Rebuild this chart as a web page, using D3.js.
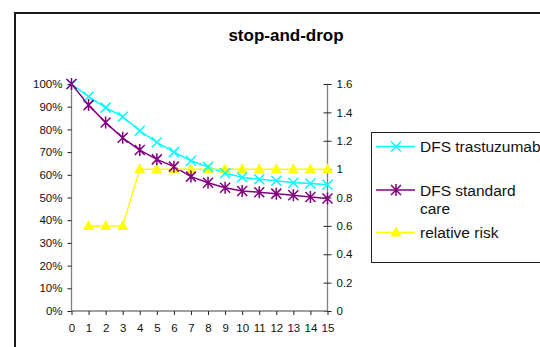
<!DOCTYPE html>
<html><head><meta charset="utf-8">
<script src="https://cdn.jsdelivr.net/npm/d3@7"></script>
<style>body{margin:0;background:#fff}svg{display:block}text{font-family:"Liberation Sans",Arial,sans-serif}</style>
</head><body>
<script>
const years = [0,1,2,3,4,5,6,7,8,9,10,11,12,13,14,15];
const dfsTrastuzumab = [1.00,0.944,0.896,0.856,0.794,0.743,0.700,0.662,0.635,0.607,0.589,0.580,0.574,0.565,0.562,0.556];
const dfsStandard = [1.00,0.907,0.830,0.763,0.709,0.668,0.636,0.592,0.565,0.543,0.529,0.523,0.517,0.510,0.502,0.496];
const relYears = [1,2,3,4,5,6,7,8,9,10,11,12,13,14,15];
const relativeRisk = [0.6,0.6,0.6,1,1,1,1,1,1,1,1,1,1,1,1];
const leftTicks = [0,0.1,0.2,0.3,0.4,0.5,0.6,0.7,0.8,0.9,1.0];
const rightTicks = [0,0.2,0.4,0.6,0.8,1.0,1.2,1.4,1.6];
const title = "stop-and-drop";
const seriesNames = ["DFS trastuzumab","DFS standard care","relative risk"];

const W=540,H=347;
const svg=d3.select("body").append("svg").attr("width",W).attr("height",H);
// outer chart border
svg.append("path").attr("d","M15,400 V13 H600").attr("fill","none").attr("stroke","#1a1a1a").attr("stroke-width",2);

const x=d3.scaleLinear().domain([0,15]).range([71.5,327.5]);
const yL=d3.scaleLinear().domain([0,1]).range([311,84]);
const yR=d3.scaleLinear().domain([0,1.6]).range([311,84]);

svg.append("text").attr("x",286).attr("y",41).attr("text-anchor","middle")
  .style("font-weight","bold").style("font-size","17px").text(title);

const axisCol="#808080";
const gL=svg.append("g").attr("transform","translate(71.5,0)")
  .call(d3.axisLeft(yL).tickValues(leftTicks).tickFormat(d3.format(".0%")).tickSize(4).tickPadding(5));
const gR=svg.append("g").attr("transform","translate(327.5,0)")
  .call(d3.axisRight(yR).tickValues(rightTicks).tickFormat(d=>d===0?"0":(d===1?"1":d3.format(".1f")(d))).tickSize(4).tickPadding(5));
gR.selectAll(".tick line").attr("x1",-4);
const gB=svg.append("g").attr("transform","translate(0,311)")
  .call(d3.axisBottom(x).tickValues(years).tickFormat(d3.format("d")).tickSize(4).tickPadding(9));
[gL,gR,gB].forEach(g=>{
  g.select(".domain").attr("stroke",axisCol).attr("stroke-width",1.3);
  g.selectAll(".tick line").attr("stroke","#222");
  g.selectAll("text").style("font-size","11.5px").attr("fill","#111").style("font-family","'Liberation Sans',Arial,sans-serif");
});
gB.select(".domain").attr("d","M71.5,0H327.5");
gL.select(".domain").attr("d","M0,84V311");
gR.select(".domain").attr("d","M0,84V311");

const cyan="#00ffff", purple="#800080", yellow="#ffff00";
const lineL=d3.line().x((d,i)=>x(years[i])).y(d=>yL(d));
svg.append("path").attr("d",lineL(dfsTrastuzumab)).attr("fill","none").attr("stroke",cyan).attr("stroke-width",1.5);
svg.append("path").attr("d",lineL(dfsStandard)).attr("fill","none").attr("stroke",purple).attr("stroke-width",1.5);
const lineR=d3.line().x((d,i)=>x(relYears[i])).y(d=>yR(d));
svg.append("path").attr("d",lineR(relativeRisk)).attr("fill","none").attr("stroke",yellow).attr("stroke-width",1.5);

const s=5;
function cross(g,cx,cy,col){g.append("path").attr("d",`M${cx-s},${cy-s}L${cx+s},${cy+s}M${cx-s},${cy+s}L${cx+s},${cy-s}`).attr("stroke",col).attr("stroke-width",1.5);}
function star(g,cx,cy,col){g.append("path").attr("d",`M${cx-s},${cy-s}L${cx+s},${cy+s}M${cx-s},${cy+s}L${cx+s},${cy-s}M${cx},${cy-s-1}V${cy+s+1}`).attr("stroke",col).attr("stroke-width",1.5);}
function tri(g,cx,cy,col){g.append("path").attr("d",`M${cx},${cy-6}L${cx+5.5},${cy+4}L${cx-5.5},${cy+4}Z`).attr("fill",col);}
const mk=svg.append("g");
relativeRisk.forEach((d,i)=>tri(mk,x(relYears[i]),yR(d),yellow));
dfsTrastuzumab.forEach((d,i)=>cross(mk,x(years[i]),yL(d),cyan));
dfsStandard.forEach((d,i)=>star(mk,x(years[i]),yL(d),purple));

const lg=svg.append("g");
lg.append("rect").attr("x",371.5).attr("y",132.5).attr("width",200).attr("height",130).attr("fill","#fff").attr("stroke","#222").attr("stroke-width",1);
const items=[{y:146.5,col:cyan,f:cross,lines:["DFS trastuzumab"]},{y:190,col:purple,f:star,lines:["DFS standard","care"]},{y:232.5,col:yellow,f:tri,lines:["relative risk"]}];
items.forEach(it=>{
  lg.append("line").attr("x1",376).attr("x2",415).attr("y1",it.y).attr("y2",it.y).attr("stroke",it.col).attr("stroke-width",1.5);
  it.f(lg,396,it.y,it.col);
  const t=lg.append("text").attr("x",420).attr("y",it.y+5.5).style("font-size","15.5px").attr("fill","#111");
  it.lines.forEach((l,j)=>t.append("tspan").attr("x",420).attr("dy",j?18:0).text(l));
});
</script>
</body></html>
